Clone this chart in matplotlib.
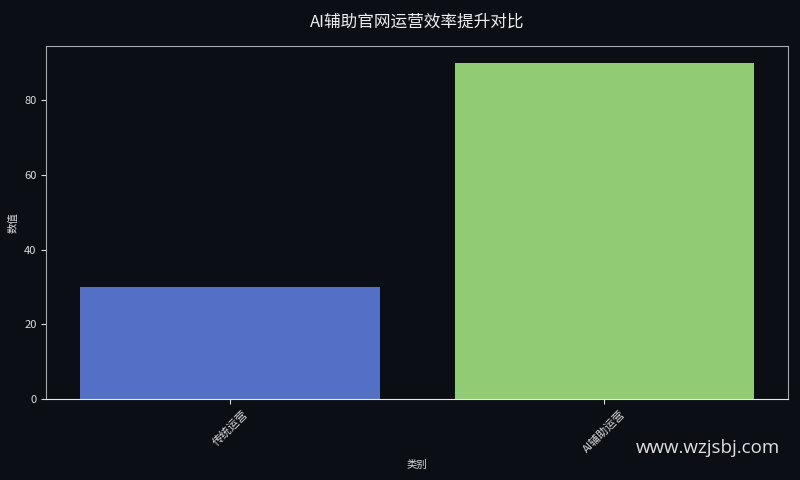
import matplotlib.pyplot as plt

plt.rcParams['font.family'] = ['Noto Sans CJK SC', 'DejaVu Sans']

categories = ['传统运营', 'AI辅助运营']
values = [30, 90]
bar_colors = ['#5470c6', '#91cc75']

bg = '#0b0e14'
fg = '#dcdcdc'

fig, ax = plt.subplots(figsize=(8, 4.8), dpi=100)
fig.patch.set_facecolor(bg)
ax.set_facecolor(bg)

ax.bar(categories, values, color=bar_colors, width=0.8)

ax.set_title('AI辅助官网运营效率提升对比', color='#eeeeee', fontsize=12, pad=14)
ax.set_xlabel('类别', color=fg, fontsize=7.5)
ax.set_ylabel('数值', color=fg, fontsize=7.5)

ax.tick_params(axis='both', colors=fg, labelsize=8)
plt.setp(ax.get_xticklabels(), rotation=45)
for side in ['left', 'right', 'top']:
    ax.spines[side].set_color('#aaaaaa')
ax.spines['bottom'].set_color('#e8e8e8')

fig.text(0.975, 0.066, 'www.wzjsbj.com', ha='right', va='center',
         fontsize=13.5, color='#e0e0e0', family=['Open Sans', 'DejaVu Sans'])

fig.subplots_adjust(left=0.058, right=0.985, bottom=0.169, top=0.904)
fig.savefig('out.png', dpi=100, facecolor=bg)
